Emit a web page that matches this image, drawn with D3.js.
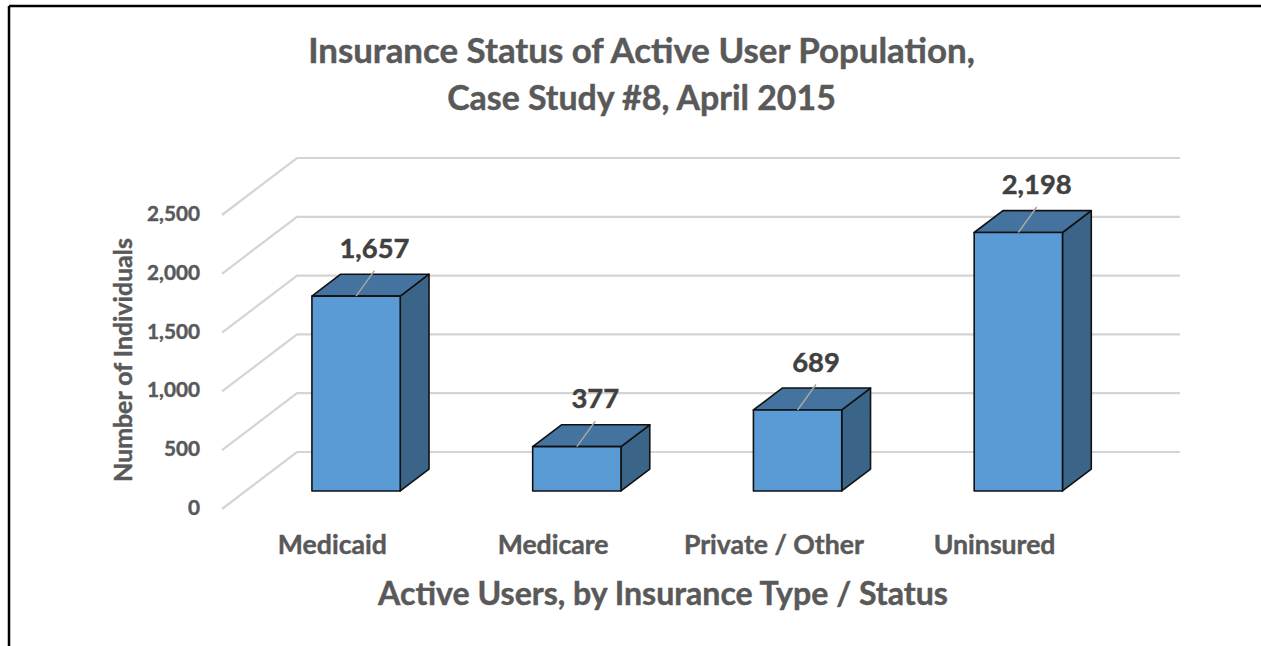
<!DOCTYPE html>
<html>
<head>
<meta charset="utf-8">
<script src="https://cdn.jsdelivr.net/npm/d3@7"></script>
<style>
  html, body { margin: 0; padding: 0; background: #fff; }
  svg { display: block; }
  text { font-family: Lato, "Open Sans", sans-serif; font-weight: bold; stroke-width: 0.45px; }
</style>
</head>
<body>
<svg id="chart" width="1261" height="646"></svg>
<script>
// ---- data ----
const categories = ["Medicaid", "Medicare", "Private / Other", "Uninsured"];
const values = [1657, 377, 689, 2198];
const yTicks = [0, 500, 1000, 1500, 2000, 2500];
const titleLines = ["Insurance Status of Active User Population,", "Case Study #8, April 2015"];
const yTitle = "Number of Individuals";
const xTitle = "Active Users, by Insurance Type / Status";

// ---- layout ----
const W = 1261, H = 646;
const svg = d3.select("#chart");
svg.append("rect").attr("width", W).attr("height", H).attr("fill", "#fff");

const floorY = 509;           // front baseline
const depthVec = [75, -57];   // offset from front to back plane
const barD0 = 0.316, barD1 = 0.70;

const x = d3.scaleBand().domain(categories).range([222, 1105]).paddingInner(0.6).paddingOuter(0.3);
const y = d3.scaleLinear().domain([0, 2500]).range([0, 294]);

function proj(px, v, d) {
  return [px + depthVec[0] * d, floorY - y(v) + depthVec[1] * d];
}

// frame (only left and top visible)
svg.append("line").attr("x1", 9).attr("y1", 6).attr("x2", W).attr("y2", 6)
  .attr("stroke", "#000").attr("stroke-width", 2.5);
svg.append("line").attr("x1", 9).attr("y1", 6).attr("x2", 9).attr("y2", H)
  .attr("stroke", "#000").attr("stroke-width", 2.5);

// gridlines: back wall + side wall
const [xl, xr] = x.range();
const grid = svg.append("g").attr("stroke", "#D4D4D4").attr("stroke-width", 2.2).attr("fill", "none");
yTicks.forEach(v => {
  const a = proj(xl, v, 0), b = proj(xl, v, 1), c = proj(xr, v, 1);
  grid.append("polyline").attr("points", [a, b, c].map(p => p.join(",")).join(" "));
});

// tick labels
const tickG = svg.append("g");
const tickTexts = tickG.selectAll("text").data(yTicks).join("text")
  .attr("x", 200).attr("y", d => proj(xl, d, 0)[1] - 2)
  .attr("text-anchor", "end").attr("dominant-baseline", "central")
  .attr("fill", "#595959").attr("stroke", "#595959").text(d => d3.format(",")(d));

// bars
const barG = svg.append("g");
categories.forEach((c, i) => {
  const v = values[i];
  const x0 = x(c), x1 = x(c) + x.bandwidth();
  const ftl = proj(x0, v, barD0), ftr = proj(x1, v, barD0), fbr = proj(x1, 0, barD0), fbl = proj(x0, 0, barD0);
  const btl = proj(x0, v, barD1), btr = proj(x1, v, barD1), bbr = proj(x1, 0, barD1);
  const poly = pts => pts.map(p => p.join(",")).join(" ");
  barG.append("polygon").attr("points", poly([ftr, btr, bbr, fbr]))
    .attr("fill", "#3A6588").attr("stroke", "#111").attr("stroke-width", 1.6).attr("stroke-linejoin", "round");
  barG.append("polygon").attr("points", poly([ftl, ftr, btr, btl]))
    .attr("fill", "#44739F").attr("stroke", "#111").attr("stroke-width", 1.6).attr("stroke-linejoin", "round");
  barG.append("polygon").attr("points", poly([ftl, ftr, fbr, fbl]))
    .attr("fill", "#5B9BD5").attr("stroke", "#111").attr("stroke-width", 1.6).attr("stroke-linejoin", "round");
});

// value labels with leader lines
const labG = svg.append("g");
const valTexts = [];
categories.forEach((c, i) => {
  const v = values[i];
  const cx = x(c) + x.bandwidth() / 2;
  const start = proj(cx, v, barD0);
  const topC = proj(cx, v, (barD0 + barD1) / 2);
  const end = [topC[0] + 4, topC[1] - 14.5];
  labG.append("line").attr("x1", start[0]).attr("y1", start[1]).attr("x2", end[0]).attr("y2", end[1])
    .attr("stroke", "#A6A6A6").attr("stroke-width", 1.5);
  valTexts.push(labG.append("text").attr("x", end[0]).attr("y", end[1] - 13)
    .attr("text-anchor", "middle").attr("fill", "#404040").attr("stroke", "#404040").text(d3.format(",")(v)));
});

// category labels (front plane)
const catTexts = svg.append("g").selectAll("text").data(categories).join("text")
  .attr("x", d => x(d) + x.bandwidth() / 2).attr("y", 554)
  .attr("text-anchor", "middle").attr("fill", "#595959").attr("stroke", "#595959").text(d => d);

// titles
const t1 = svg.append("text").attr("x", 641.5).attr("y", 63).attr("text-anchor", "middle")
  .attr("fill", "#595959").attr("stroke", "#595959").text(titleLines[0]);
const t2 = svg.append("text").attr("x", 641.5).attr("y", 110).attr("text-anchor", "middle")
  .attr("fill", "#595959").attr("stroke", "#595959").text(titleLines[1]);
const yt = svg.append("text").attr("transform", "translate(122,360) rotate(-90)")
  .attr("text-anchor", "middle").attr("dominant-baseline", "central")
  .attr("fill", "#595959").attr("stroke", "#595959").text(yTitle);
const xt = svg.append("text").attr("x", 663).attr("y", 605).attr("text-anchor", "middle")
  .attr("fill", "#595959").attr("stroke", "#595959").text(xTitle);

// fit font sizes to reference widths
function fitSize(refNode, target) {
  d3.select(refNode).style("font-size", "20px");
  const w = refNode.getComputedTextLength();
  return 20 * target / w;
}
t1.style("font-size", fitSize(t1.node(), 667) + "px");
t2.style("font-size", fitSize(t2.node(), 389) + "px");
yt.style("font-size", fitSize(yt.node(), 244) + "px");
xt.style("font-size", fitSize(xt.node(), 570) + "px");
const catSize = fitSize(catTexts.nodes()[2], 180);
catTexts.style("font-size", catSize + "px");
const tickSize = fitSize(tickTexts.nodes()[5], 53);
tickTexts.style("font-size", tickSize + "px");
const valSize = fitSize(valTexts[0].node(), 70);
valTexts.forEach(t => t.style("font-size", valSize + "px"));
</script>
</body>
</html>
